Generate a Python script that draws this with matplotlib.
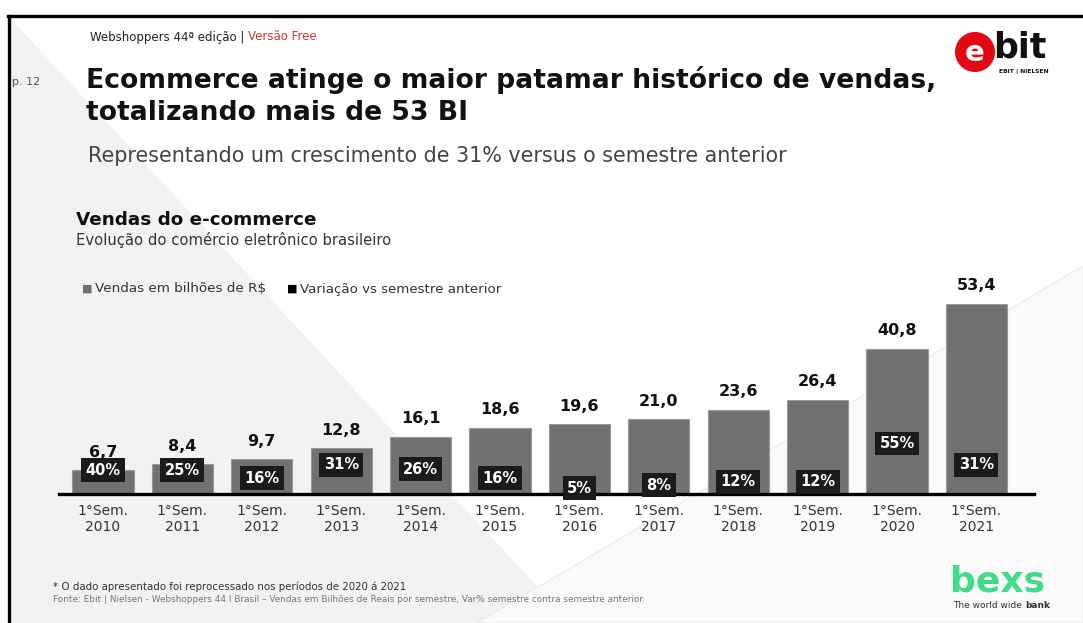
import matplotlib.pyplot as plt
from matplotlib.patches import Polygon, Ellipse

periodos = ["1°Sem.\n2010", "1°Sem.\n2011", "1°Sem.\n2012", "1°Sem.\n2013",
            "1°Sem.\n2014", "1°Sem.\n2015", "1°Sem.\n2016", "1°Sem.\n2017",
            "1°Sem.\n2018", "1°Sem.\n2019", "1°Sem.\n2020", "1°Sem.\n2021"]
vendas = [6.7, 8.4, 9.7, 12.8, 16.1, 18.6, 19.6, 21.0, 23.6, 26.4, 40.8, 53.4]
variacao = [40, 25, 16, 31, 26, 16, 5, 8, 12, 12, 55, 31]

W, H = 1083, 623
plt.rcParams["font.family"] = ["DejaVu Sans"]

BAR = "#717171"
BOX = "#1b1b1b"


def fx(px):
    return px / W


def fy(py):
    return 1 - py / H


def after(t):
    # x (fração da figura) logo depois de um texto já desenhado
    fig.canvas.draw()
    return t.get_window_extent().x1 / W


fig = plt.figure(figsize=(W / 100, H / 100), dpi=100)
fig.patch.set_facecolor("white")

# fundo do slide: triângulos cinza claro
fig.add_artist(Polygon([(fx(10), fy(18)), (fx(571), fy(623)), (fx(10), fy(623))],
                       closed=True, transform=fig.transFigure, fc="#f2f2f2", ec="none", zorder=0))
fig.add_artist(Polygon([(fx(477), fy(623)), (fx(1083), fy(266)), (fx(1083), fy(623))],
                       closed=True, transform=fig.transFigure, fc="#fafafa", ec="#ebebeb",
                       lw=0.8, zorder=0))
# moldura preta
fig.add_artist(plt.Line2D([fx(8), fx(1083)], [fy(16), fy(16)], transform=fig.transFigure,
                          color="black", lw=2.4, zorder=5))
fig.add_artist(plt.Line2D([fx(9), fx(9)], [fy(16), fy(623)], transform=fig.transFigure,
                          color="black", lw=2.4, zorder=5))

# cabeçalho
t = fig.text(fx(90), fy(37), "Webshoppers 44ª edição | ", fontsize=8.5, color="#222222",
             va="center")
fig.text(after(t), fy(37), "Versão Free", fontsize=8.5, color="#d0312d", va="center")
fig.text(fx(12), fy(82), "p. 12", fontsize=8, color="#555555", va="center")
fig.text(fx(86), fy(80), "Ecommerce atinge o maior patamar histórico de vendas,",
         fontsize=19.2, fontweight="bold", color="#111111", va="center")
fig.text(fx(86), fy(113), "totalizando mais de 53 BI", fontsize=19.2, fontweight="bold",
         color="#111111", va="center")
fig.text(fx(88), fy(156), "Representando um crescimento de 31% versus o semestre anterior",
         fontsize=14.9, color="#444444", va="center")

fig.text(fx(76), fy(220), "Vendas do e-commerce", fontsize=13.2, fontweight="bold",
         color="#111111", va="center")
fig.text(fx(76), fy(240), "Evolução do comércio eletrônico brasileiro", fontsize=10.6,
         color="#333333", va="center")

# legenda
fig.text(fx(82), fy(289), "■", fontsize=8, color=BAR, va="center")
fig.text(fx(95), fy(289), "Vendas em bilhões de R$", fontsize=9.7, color="#333333", va="center")
fig.text(fx(287), fy(289), "■", fontsize=8, color="black", va="center")
fig.text(fx(300), fy(289), "Variação vs semestre anterior", fontsize=9.6, color="#333333",
         va="center")

# rodapé
fig.text(fx(53), fy(587), "* O dado apresentado foi reprocessado nos períodos de 2020 á 2021",
         fontsize=7.4, color="#333333", va="center")
fig.text(fx(53), fy(600),
         "Fonte: Ebit | Nielsen - Webshoppers 44 I Brasil – Vendas em Bilhões de Reais por "
         "semestre, Var% semestre contra semestre anterior.",
         fontsize=6.4, color="#777777", va="center")

# logos (texto)
fig.add_artist(Ellipse((fx(975), fy(52)), 40 / W, 40 / H, transform=fig.transFigure,
                       fc="#e30613", ec="none", zorder=3))
fig.text(fx(975), fy(53), "e", fontsize=21, fontweight="bold", color="white",
         ha="center", va="center", zorder=4)
fig.text(fx(993), fy(48), "bit", fontsize=25, fontweight="bold", color="#111111",
         va="center", zorder=4)
fig.text(fx(999), fy(72), "EBIT | NIELSEN", fontsize=4.3, fontweight="bold", color="#111111",
         va="center", zorder=4)
fig.text(fx(950), fy(581), "bexs", fontsize=26, fontweight="bold", color="#3fdc8a",
         va="center")
t = fig.text(fx(953), fy(606), "The world wide ", fontsize=6.5, color="#333333", va="center")
fig.text(after(t), fy(606), "bank", fontsize=6.5, color="#333333", va="center",
         fontweight="bold")

# gráfico
ax = fig.add_axes([fx(59), fy(494), fx(1034) - fx(59), (494 - 280) / H])
ax.set_facecolor("none")
x = list(range(len(vendas)))
ax.bar(x, vendas, width=0.77, color=BAR, edgecolor="#9a9a9a", linewidth=0.8, zorder=2)
ax.set_xlim(-0.554, 11.725)
ax.set_ylim(0, 60.1)
for s in ("top", "right", "left"):
    ax.spines[s].set_visible(False)
ax.spines["bottom"].set_linewidth(2.4)
ax.spines["bottom"].set_zorder(3)
ax.set_yticks([])
ax.set_xticks(x)
ax.set_xticklabels(periodos, fontsize=10, color="#333333", linespacing=1.25)
ax.tick_params(axis="x", length=0, pad=7)

for i, v in enumerate(vendas):
    ax.annotate(f"{v:.1f}".replace(".", ","), (i, v), xytext=(0, 18),
                textcoords="offset pixels", ha="center", va="center",
                fontsize=11.5, fontweight="bold", color="#111111")

# variação no eixo secundário
ax2 = ax.twinx()
ax2.set_ylim(-1.7, 238.8)
ax2.axis("off")
for i, (v, p) in enumerate(zip(vendas, variacao)):
    topo = ax2.transData.inverted().transform(ax.transData.transform((i, v)))[1]
    ax2.text(i, min(p, topo), f"{p}%", ha="center", va="center", fontsize=10.5,
             fontweight="bold", color="white", zorder=4,
             bbox=dict(boxstyle="square,pad=0.3", fc=BOX, ec="none"))

fig.savefig("out.png", dpi=100)
